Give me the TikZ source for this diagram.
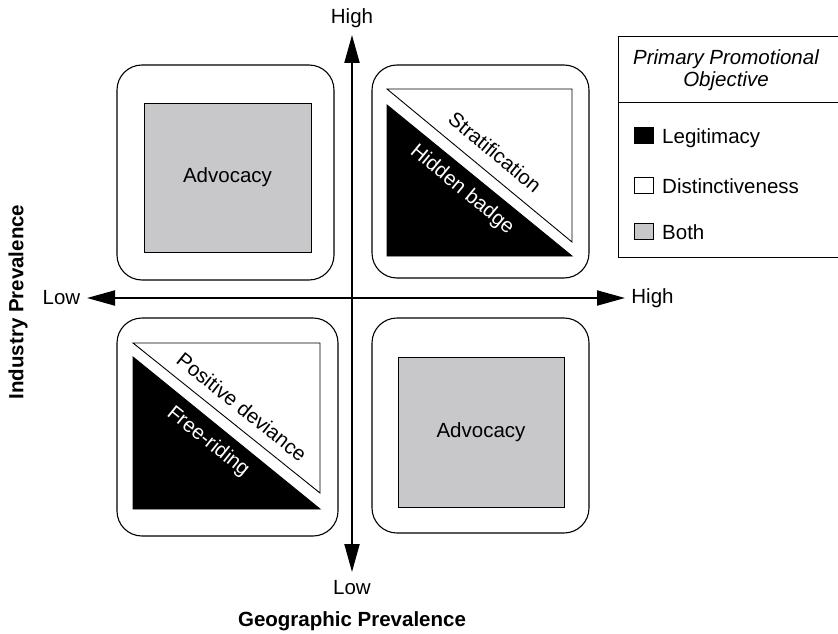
\documentclass[tikz,border=0pt]{standalone}
\usepackage{fontspec}
\setmainfont{Liberation Sans}
\usetikzlibrary{arrows.meta}
\definecolor{boxgray}{RGB}{200,200,202}
\begin{document}
\begin{tikzpicture}[x=1pt,y=-1pt,
  lbl/.style={font=\fontsize{20.5}{22}\selectfont, inner sep=0pt},
  outerbox/.style={draw, line width=1.1pt, rounded corners=25pt, fill=white, inner sep=0pt},
  graysq/.style={draw, line width=0.9pt, fill=boxgray, inner sep=0pt, font=\fontsize{20.5}{22}\selectfont},
  tri/.style={draw, line width=0.9pt},
  axisline/.style={line width=2pt, {Triangle[length=28pt,width=15pt]}-{Triangle[length=28pt,width=15pt]}},
  legsq/.style={draw, line width=0.8pt, minimum width=19pt, minimum height=16pt, inner sep=0pt}
]
\useasboundingbox (0,0) rectangle (838,634);

% quadrant frames
\node[outerbox, minimum width=217pt, minimum height=215pt] (tl) at (225.5,172.5) {};
\node[outerbox, minimum width=217pt, minimum height=213pt] (tr) at (480.5,171.5) {};
\node[outerbox, minimum width=221pt, minimum height=218pt] (bl) at (227.5,427) {};
\node[outerbox, minimum width=217pt, minimum height=215pt] (br) at (480.5,425.5) {};

% gray squares
\node[graysq, minimum width=167pt, minimum height=149pt] (tladv) at (227.5,177.5) {Advocacy};
\node[graysq, minimum width=166pt, minimum height=150pt] (bradv) at (481,432) {Advocacy};

% top-right split square
\draw[tri, fill=white] (387,89) -- (572,89) -- (572,242) -- cycle;
\draw[tri, fill=black] (387,105) -- (387,256) -- (572,256) -- cycle;
\node[lbl, rotate=-39.6] (strat) at (495,152) {Stratification};
\node[lbl, rotate=-39.6, text=white] (hidden) at (462,190) {Hidden badge};

% bottom-left split square
\draw[tri, fill=white] (133,343) -- (320,343) -- (320,493) -- cycle;
\draw[tri, fill=black] (133,357) -- (133,509) -- (320,509) -- cycle;
\node[lbl, rotate=-38.7] (posdev) at (242,407) {Positive deviance};
\node[lbl, rotate=-38.7, text=white] (free) at (208,442) {Free-riding};

% axes
\coordinate (xl) at (87,298);
\coordinate (xr) at (625,298);
\coordinate (yt) at (352,35);
\coordinate (yb) at (352,572);
\draw[axisline] (xl) -- (xr);
\draw[axisline] (yb) -- (yt);

% axis labels
\node[lbl] (yhigh) at (352,18) {High};
\node[lbl] (ylow) at (352,588) {Low};
\node[lbl] (xlow) at (61.5,298) {Low};
\node[lbl] (xhigh) at (652.5,298) {High};
\node[lbl, font=\fontsize{20.5}{22}\selectfont\bfseries] (xtitle) at (352,621) {Geographic Prevalence};
\node[lbl, font=\fontsize{20.5}{22}\selectfont\bfseries, rotate=90] (ytitle) at (18,302) {Industry Prevalence};

% legend
\draw[line width=1pt] (838,37) -- (618,37) -- (618,257) -- (838,257);
\draw[line width=1pt] (618,102) -- (838,102);
\node[lbl, font=\fontsize{20.5}{22}\selectfont\itshape, align=center] (ltitle) at (726,70) {Primary Promotional\\Objective};
\node[legsq, fill=black, anchor=south west] (sq1) at (634,144) {};
\node[legsq, fill=white, anchor=south west] (sq2) at (634,194) {};
\node[legsq, fill=boxgray, anchor=south west] (sq3) at (634,240) {};
\node[lbl, anchor=base west] (t1) at (662,143) {Legitimacy};
\node[lbl, anchor=base west] (t2) at (662,193) {Distinctiveness};
\node[lbl, anchor=base west] (t3) at (662,239) {Both};
\end{tikzpicture}
\end{document}
